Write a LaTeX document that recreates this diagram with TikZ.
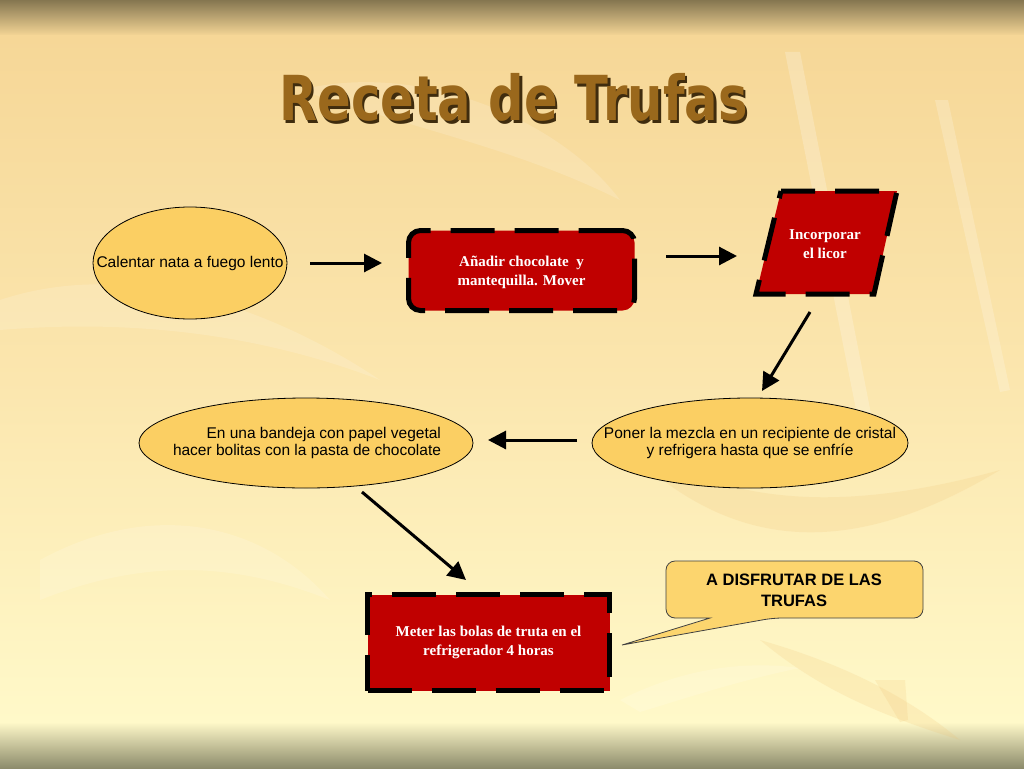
\documentclass[tikz,border=0pt]{standalone}
\usepackage{fontspec}
\setmainfont{Liberation Serif}
\newfontfamily\sansf{Liberation Sans}
\newfontfamily\titlef{DejaVu Sans}
\usetikzlibrary{arrows.meta,shapes.geometric}
\definecolor{boxred}{HTML}{C00000}
\definecolor{ellfill}{HTML}{FBCF63}
\definecolor{callfill}{HTML}{FCD56E}
\definecolor{titlebrown}{HTML}{9A681C}
\definecolor{titleshadow}{HTML}{3F2C0E}
\definecolor{bgtop}{HTML}{857650}
\definecolor{bglight}{HTML}{F6D797}
\definecolor{bgmid}{HTML}{FBE6AE}
\definecolor{bgpale}{HTML}{FFF9C9}
\definecolor{bgbot}{HTML}{8D8C6C}
\definecolor{leafdark}{HTML}{F0C070}
\newcommand{\titletext}{\scalebox{0.8}[1]{Receta de Trufas}}
\begin{document}
\begin{tikzpicture}[x=1pt,y=-1pt,
  ellshape/.style={ellipse, draw=black, line width=0.8pt, fill=ellfill, inner sep=0pt},
  elltext/.style={font=\sansf\fontsize{15.5}{17.5}\selectfont, align=center, inner sep=0pt},
  redbox/.style={rectangle, fill=boxred, draw=black, line width=5pt, dash pattern=on 44pt off 20pt, inner sep=0pt},
  redtext/.style={font=\bfseries\fontsize{15}{19}\selectfont, text=white, align=center, inner sep=0pt},
  arr/.style={line width=3pt, -{Triangle[length=18pt,width=18pt]}},
  leaf/.style={white, opacity=0.15},
  leafo/.style={leafdark, opacity=0.18}
]
\useasboundingbox (0,0) rectangle (1024,768);
% background
\shade[top color=bgtop, bottom color=bglight] (0,0) rectangle (1024,36);
\shade[top color=bglight, bottom color=bgpale, middle color=bgmid] (0,36) rectangle (1024,722);
\shade[top color=bgpale, bottom color=bgbot] (0,722) rectangle (1024,768);
% faint background leaves
\fill[white, opacity=0.22] (785,52) -- (800,52) -- (882,470) -- (868,470) -- cycle;
\fill[white, opacity=0.2] (935,100) -- (948,100) -- (1010,390) -- (1000,392) -- cycle;
\fill[leaf] (300,90) .. controls (420,60) and (560,120) .. (620,200) .. controls (520,150) and (420,130) .. (300,90) -- cycle;
\fill[leaf] (0,300) .. controls (120,260) and (260,300) .. (380,380) .. controls (250,330) and (120,320) .. (0,330) -- cycle;
\fill[leaf] (40,560) .. controls (150,500) and (260,520) .. (330,600) .. controls (230,560) and (140,560) .. (40,600) -- cycle;
\fill[leafo] (600,420) .. controls (700,500) and (820,520) .. (1000,470) .. controls (850,560) and (720,560) .. (600,420) -- cycle;
\fill[leafo] (875,680) -- (905,680) -- (908,720) -- (900,722) -- cycle;
\fill[leafo] (760,640) .. controls (830,660) and (900,690) .. (960,740) .. controls (880,715) and (820,690) .. (760,640) -- cycle;
\fill[leaf] (620,700) .. controls (680,670) and (740,660) .. (800,668) .. controls (740,680) and (680,700) .. (640,712) -- cycle;
% title with shadow
\node[font=\titlef\bfseries\fontsize{62}{70}\selectfont, anchor=base, inner sep=0pt] (title) at (513.5,120.5)
  {\rlap{\hspace{2.5pt}\raisebox{-2.5pt}{\textcolor{titleshadow}{\titletext}}}\textcolor{titlebrown}{\titletext}};
% step 1 ellipse
\node[ellshape, minimum width=194pt, minimum height=112pt] (e1) at (190,263) {};
\node[elltext] (e1t) at (e1.center) {Calentar nata a fuego lento};
% step 2 rounded red box
\node[redbox, rounded corners=12pt, minimum width=226pt, minimum height=80pt] (b1) at (521.5,270.5) {};
\node[redtext] (b1t) at (521.5,272) {Añadir chocolate\ \ y\\mantequilla. Mover};
% step 3 parallelogram
\coordinate (ptl) at (781,191);
\coordinate (ptr) at (897,191);
\coordinate (pbr) at (874,294);
\coordinate (pbl) at (756,294);
\path[fill=boxred] (ptl) -- (ptr) -- (pbr) -- (pbl) -- cycle;
\draw[line width=5pt, dash pattern=on 44pt off 20pt, dash phase=10pt] (ptl) -- (ptr) -- (pbr) -- (pbl) -- cycle;
\node[redtext] (pt) at (825,244) {Incorporar\\el licor};
% step 4 right ellipse
\node[ellshape, minimum width=316pt, minimum height=90pt] (e2) at (750,443) {};
\node[elltext] (e2t) at (e2.center) {Poner la mezcla en un recipiente de cristal\\y refrigera hasta que se enfríe};
% step 5 left ellipse
\node[ellshape, minimum width=334pt, minimum height=90pt] (e3) at (306,443) {};
\node[elltext, align=right] (e3t) at (307,443) {En una bandeja con papel vegetal\\hacer bolitas con la pasta de chocolate};
% step 6 red box
\node[redbox, minimum width=242pt, minimum height=96pt] (b2) at (488.5,642.5) {};
\node[redtext] (b2t) at (b2.center) {Meter las bolas de truta en el\\refrigerador 4 horas};
% callout
\path[draw=black!75, line width=0.8pt, fill=callfill, rounded corners=9pt]
  (666,561) -- (923,561) -- (923,618) -- (773,618) [sharp corners] -- (622,645) -- (710,618) [rounded corners=9pt] -- (666,618) -- cycle;
\node[font=\sansf\bfseries\fontsize{16.5}{21}\selectfont, align=center, inner sep=0pt] (call) at (794,590) {A DISFRUTAR DE LAS\\TRUFAS};
% arrows
\coordinate (a1s) at (310,263); \coordinate (a1e) at (382,263);
\coordinate (a2s) at (666,256); \coordinate (a2e) at (737,256);
\coordinate (a3s) at (810,312); \coordinate (a3e) at (762,391);
\coordinate (a4s) at (577,440); \coordinate (a4e) at (488,440);
\coordinate (a5s) at (362,492); \coordinate (a5e) at (466,580);
\draw[arr] (a1s) -- (a1e);
\draw[arr] (a2s) -- (a2e);
\draw[arr] (a3s) -- (a3e);
\draw[arr] (a4s) -- (a4e);
\draw[arr] (a5s) -- (a5e);
\end{tikzpicture}
\end{document}
